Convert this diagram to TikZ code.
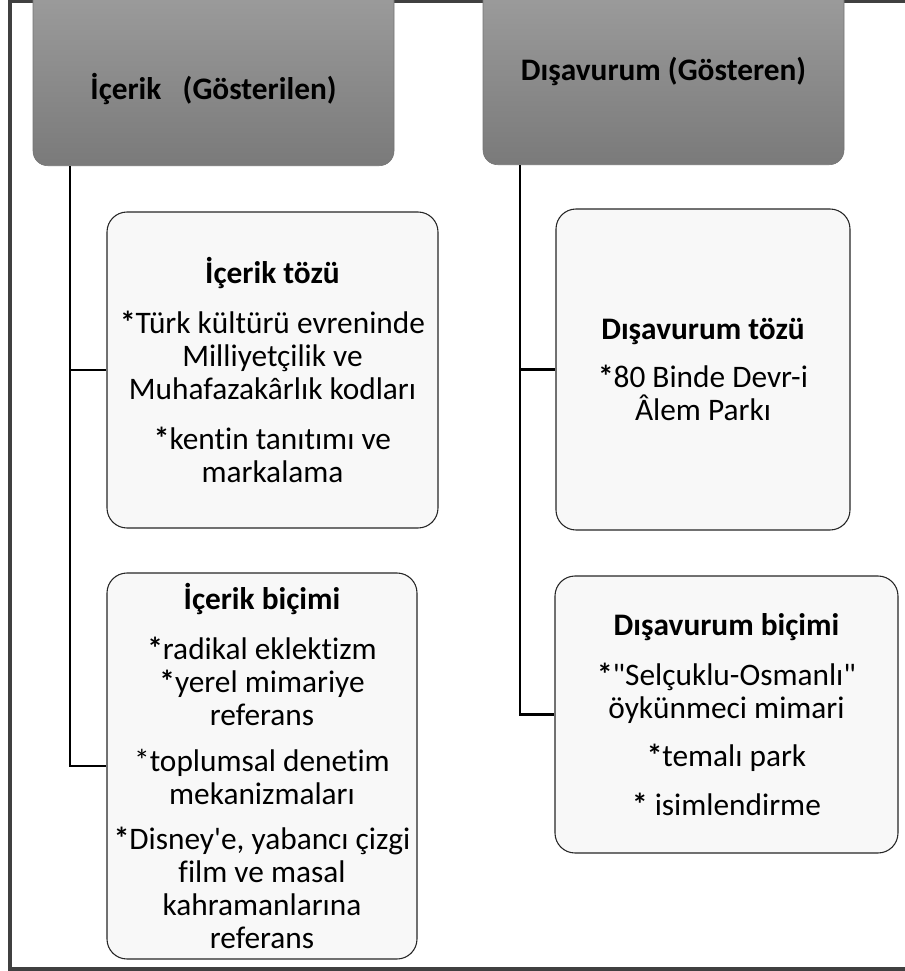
\documentclass[tikz,border=0pt]{standalone}
\usepackage{fontspec}
\newfontfamily\calfont{Carlito}[Ligatures=CommonOff]
\definecolor{framegray}{RGB}{64,64,64}
\definecolor{hdrtop}{RGB}{162,162,162}
\definecolor{hdrbottom}{RGB}{122,122,122}
\definecolor{boxfill}{RGB}{248,248,248}

\begin{document}
\begin{tikzpicture}[x=0.75pt, y=-0.75pt,
  header/.style={draw=black!55, rounded corners=11pt, top color=hdrtop,
    bottom color=hdrbottom, inner sep=0pt, minimum width=270.75pt,
    font=\calfont\bfseries\fontsize{23.5}{25}\selectfont},
  item/.style={draw=black!85, line width=0.8pt, rounded corners=15pt,
    fill=boxfill, inner sep=0pt, align=center,
    font=\calfont\fontsize{23.5}{24.75}\selectfont},
  link/.style={line width=1.6pt}]
\useasboundingbox (0,0) rectangle (905,971);

\draw[line width=3pt, framegray] (9.5,0.5) rectangle (930,969);

\node[header, anchor=south, text height=105pt, text depth=49.5pt]
  (hdrL) at (213.5,166) {İçerik\ \ \ (Gösterilen)};
\node[header, anchor=south, text height=90.75pt, text depth=63pt]
  (hdrR) at (663.5,165) {Dışavurum (Gösteren)};

\node[item, minimum width=248.25pt, minimum height=237pt] (tozL) at (272.5,370)
  {\textbf{İçerik tözü}\\[13pt]
   \textbf{*}Türk kültürü evreninde\\ Milliyetçilik ve\\ Muhafazakârlık kodları\\[13pt]
   \textbf{*}kentin tanıtımı ve\\ markalama};
\node[item, minimum width=232.5pt, minimum height=289.5pt] (bicimL) at (262,766)
  {\textbf{İçerik biçimi}\\[12.75pt]
   \textbf{*}radikal eklektizm\\ \textbf{*}yerel mimariye\\ referans\\[9.5pt]
   *toplumsal denetim\\ mekanizmaları\\[9.5pt]
   \textbf{*}Disney'e, yabancı çizgi\\ film ve masal\\ kahramanlarına\\ referans};

\node[item, minimum width=220.5pt, minimum height=240.75pt] (tozR) at (703,369.5)
  {\textbf{Dışavurum tözü}\\[11pt]
   \textbf{*}80 Binde Devr-i\\ Âlem Parkı};
\node[item, minimum width=257.25pt, minimum height=207.75pt] (bicimR) at (726.5,714.5)
  {\textbf{Dışavurum biçimi}\\[12.75pt]
   \textbf{*}"Selçuklu-Osmanlı"\\ öykünmeci mimari\\[11pt]
   \textbf{*}temalı park\\[12pt]
   \textbf{*} isimlendirme};

\coordinate (trunkL) at (70,166);
\coordinate (trunkR) at (520,165);
\draw[link] (trunkL) |- (tozL.west);
\draw[link] (trunkL) |- (bicimL.west);
\draw[link] (trunkR) |- (tozR.west);
\draw[link] (trunkR) |- (bicimR.west);
\end{tikzpicture}
\end{document}
